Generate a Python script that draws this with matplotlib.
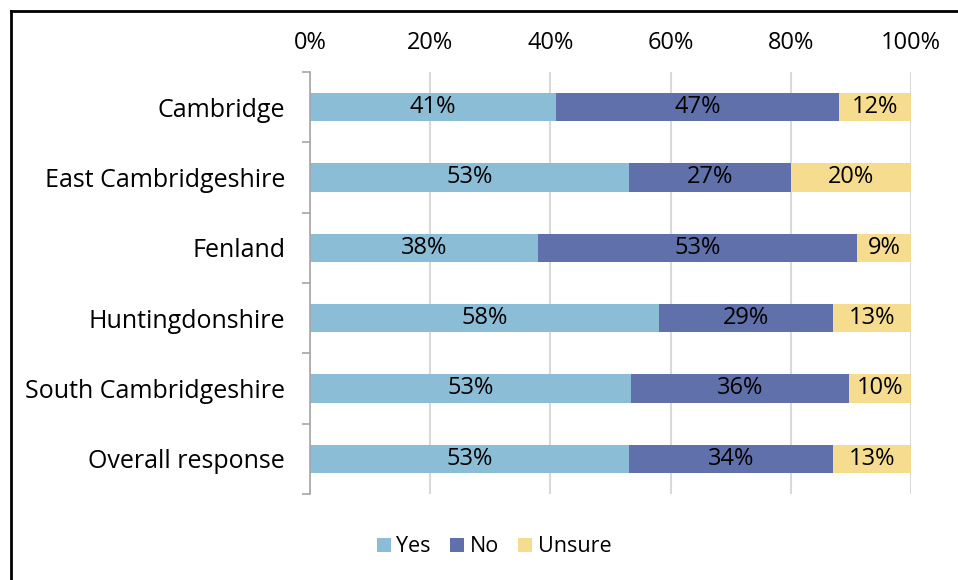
import matplotlib.pyplot as plt
from matplotlib.lines import Line2D
from matplotlib.ticker import PercentFormatter

# settings
plt.rcParams['font.family'] = ['Open Sans', 'DejaVu Sans']
label_size = 17
category_size = 18
legend_size = 15.5

# DATA
districts = ['Cambridge', 'East Cambridgeshire', 'Fenland', 'Huntingdonshire',
             'South Cambridgeshire', 'Overall response']
yes = [41, 53, 38, 58, 53.4, 53]
no = [47, 27, 53, 29, 36.3, 34]
unsure = [12, 20, 9, 13, 10.3, 13]
series_names = ['Yes', 'No', 'Unsure']
colours = ['#8bbdd6', '#6070aa', '#f5dc8e']

fig = plt.figure(figsize=(9.58, 5.8), dpi=100)
ax = fig.add_axes([0.3236, 0.1483, 0.6274, 0.7276])

rows = list(range(len(districts)))
left = [0] * len(districts)
for name, values, colour in zip(series_names, [yes, no, unsure], colours):
    bars = ax.barh(rows, values, left=left, height=0.4, color=colour, label=name, zorder=2)
    ax.bar_label(bars, labels=[f'{v:.0f}%' for v in values], label_type='center',
                 fontsize=label_size, color='black')
    left = [l + v for l, v in zip(left, values)]

ax.set_ylim(len(districts) - 0.5, -0.5)
ax.set_xlim(0, 100)
ax.set_yticks(rows)
ax.set_yticklabels(districts, fontsize=category_size)
ax.tick_params(axis='y', length=0, pad=18)
# short marks between categories on the left axis
ax.set_yticks([r - 0.5 for r in range(len(districts) + 1)], minor=True)
ax.tick_params(axis='y', which='minor', length=6, color='#a6a6a6', width=1.2)

ax.xaxis.set_ticks_position('top')
ax.set_xticks(range(0, 101, 20))
ax.xaxis.set_major_formatter(PercentFormatter(decimals=0))
ax.tick_params(axis='x', length=0, pad=12, labelsize=label_size)
ax.grid(axis='x', color='#d9d9d9', linewidth=1.5, zorder=0)

for side in ['top', 'right', 'bottom']:
    ax.spines[side].set_visible(False)
ax.spines['left'].set_color('#a6a6a6')
ax.spines['left'].set_linewidth(1.2)

fig.legend(loc='center', bbox_to_anchor=(494 / 958, 1 - 547 / 580), ncol=3,
           frameon=False, fontsize=legend_size, handlelength=0.65, handleheight=0.65,
           handletextpad=0.25, columnspacing=0.9)

# outer frame on the left and top edges
fig.add_artist(Line2D([11 / 958, 11 / 958], [0, 1 - 11 / 580], color='black', linewidth=2))
fig.add_artist(Line2D([11 / 958, 1], [1 - 11 / 580, 1 - 11 / 580], color='black', linewidth=2))

fig.savefig('out.png', dpi=100)
